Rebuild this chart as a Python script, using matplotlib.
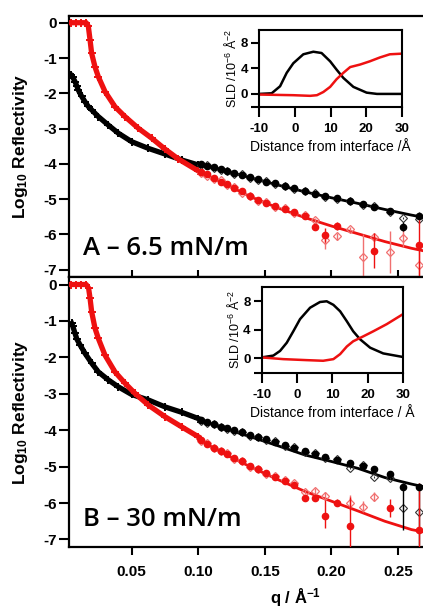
import numpy as np
import matplotlib
matplotlib.use("Agg")
import matplotlib.pyplot as plt

plt.rcParams['font.family'] = ['Liberation Sans', 'DejaVu Sans']
plt.rcParams['mathtext.default'] = 'regular'
plt.rcParams['axes.unicode_minus'] = False

RED = '#ee1111'
PINK = '#f07070'

# ---- panel A (6.5 mN/m) dense low-q data ----
qA_black = [0.0046, 0.0060, 0.0076, 0.0090, 0.0101, 0.0125, 0.0151, 0.0175, 0.0201, 0.0251,
            0.0326, 0.0401, 0.0501, 0.0626, 0.0751, 0.0877, 0.1001]
RA_black = [-1.48, -1.55, -1.67, -1.80, -1.91, -2.08, -2.24, -2.37, -2.47, -2.66,
            -2.90, -3.13, -3.37, -3.56, -3.72, -3.89, -4.03]
qA_red = [0.0046, 0.0080, 0.0120, 0.0160, 0.0176, 0.0189, 0.0201, 0.0226, 0.0251, 0.0301,
          0.0376, 0.0451, 0.0551, 0.0651, 0.0751, 0.0851, 0.1001]
RA_red = [0.0, 0.0, 0.0, 0.0, -0.10, -0.49, -0.87, -1.25, -1.53, -1.95,
          -2.38, -2.66, -2.99, -3.27, -3.58, -3.86, -4.20]

# ---- panel B (30 mN/m) dense low-q data ----
qB_black = [0.0051, 0.0060, 0.0076, 0.0090, 0.0114, 0.0151, 0.0201, 0.0251, 0.0326, 0.0401,
            0.0501, 0.0626, 0.0751, 0.0877, 0.1001]
RB_black = [-1.07, -1.15, -1.34, -1.50, -1.66, -1.89, -2.16, -2.40, -2.62, -2.81,
            -3.02, -3.17, -3.36, -3.51, -3.68]
qB_red = [0.0046, 0.0080, 0.0120, 0.0160, 0.0178, 0.0189, 0.0201, 0.0226, 0.0251, 0.0301,
          0.0376, 0.0451, 0.0526, 0.0626, 0.0751, 0.0877, 0.1001]
RB_red = [0.0, 0.0, 0.0, 0.0, -0.10, -0.38, -0.75, -1.20, -1.48, -1.94,
          -2.40, -2.71, -2.99, -3.31, -3.63, -3.91, -4.18]

# ---- high-q binned data (filled = one contrast, open diamonds = other) ----
q_hi = [0.102, 0.107, 0.112, 0.117, 0.122, 0.127, 0.133, 0.139, 0.145, 0.151, 0.158, 0.165,
        0.172, 0.180, 0.188, 0.195, 0.204, 0.214, 0.224, 0.232, 0.244, 0.254, 0.266]
nan = np.nan

A_blk_f = [-4.00, -4.06, -4.10, -4.15, -4.20, -4.25, -4.32, -4.38, -4.43, -4.50, -4.55, -4.63,
           -4.69, -4.77, -4.85, -4.90, -4.98, -5.06, -5.15, -5.22, -5.33, -5.78, -5.47]
A_blk_f_err = [0.03, 0.03, 0.03, 0.03, 0.03, 0.03, 0.03, 0.03, 0.03, 0.03, 0.03, 0.03,
               0.03, 0.03, 0.04, 0.04, 0.04, 0.05, 0.05, 0.05, 0.06, 0.12, 0.10]
A_blk_d = [-4.04, -4.04, -4.12, -4.18, -4.19, -4.28, -4.30, -4.40, -4.46, -4.48, -4.58, -4.62,
           -4.72, -4.78, -4.83, -4.93, -4.99, -5.05, -5.17, -5.20, -5.36, -5.54, -5.57]
A_red_f = [-4.22, -4.30, -4.40, -4.50, -4.58, -4.68, -4.78, -4.92, -5.01, -5.10, -5.18, -5.28,
           -5.35, -5.47, -5.78, -6.01, -5.76, nan, nan, -6.46, nan, nan, -6.30]
A_red_f_err = [0.03, 0.03, 0.03, 0.03, 0.03, 0.03, 0.04, 0.04, 0.04, 0.05, 0.05, 0.05,
               0.06, 0.06, 0.08, 0.20, 0.10, 0, 0, 0.50, 0, 0, 0.90]
A_red_d = [-4.26, -4.33, -4.42, -4.47, -4.60, -4.66, -4.82, -4.90, -5.04, -5.08, -5.22, -5.25,
           -5.40, -5.45, -5.60, -6.16, -6.05, -5.85, -6.63, -6.06, -6.49, -6.11, -6.86]
A_red_d_err = [0.03, 0.03, 0.03, 0.03, 0.03, 0.03, 0.04, 0.04, 0.04, 0.05, 0.05, 0.05,
               0.06, 0.06, 0.08, 0.26, 0.10, 0.05, 0.65, 0.05, 0.60, 0.25, 0.40]

B_blk_f = [-3.73, -3.78, -3.84, -3.90, -3.95, -4.00, -4.06, -4.12, -4.20, -4.25, -4.33, -4.40,
           -4.48, -4.58, -4.66, -4.73, -4.82, -4.90, -4.98, -5.06, -5.20, -5.55, -5.55]
B_blk_f_lo = [0.03, 0.03, 0.03, 0.03, 0.03, 0.03, 0.03, 0.03, 0.03, 0.03, 0.03, 0.03,
              0.03, 0.03, 0.04, 0.04, 0.04, 0.05, 0.05, 0.05, 0.06, 1.20, 1.60]
B_blk_f_hi = [0.03, 0.03, 0.03, 0.03, 0.03, 0.03, 0.03, 0.03, 0.03, 0.03, 0.03, 0.03,
              0.03, 0.03, 0.04, 0.04, 0.04, 0.05, 0.05, 0.05, 0.06, 0.10, 0.10]
B_blk_d = [-3.75, -3.80, -3.83, -3.92, -3.96, -4.02, -4.05, -4.15, -4.19, -4.27, -4.31, -4.43,
           -4.47, -4.60, -4.64, -4.76, -4.80, -5.05, -4.97, -5.28, -5.30, -6.15, -6.25]
B_red_f = [-4.28, -4.38, -4.48, -4.56, -4.66, -4.76, -4.86, -4.98, -5.08, -5.18, -5.28, -5.40,
           -5.50, -5.87, -5.87, -6.36, -5.99, -6.63, nan, nan, -6.13, nan, -6.74]
B_red_f_lo = [0.03, 0.03, 0.03, 0.03, 0.03, 0.03, 0.04, 0.04, 0.04, 0.05, 0.05, 0.05,
              0.06, 0.06, 0.08, 0.34, 0.10, 0.90, 0, 0, 0.25, 0, 0.60]
B_red_f_hi = [0.03, 0.03, 0.03, 0.03, 0.03, 0.03, 0.04, 0.04, 0.04, 0.05, 0.05, 0.05,
              0.06, 0.06, 0.08, 0.44, 0.10, 0.80, 0, 0, 0.25, 0, 1.30]
B_red_d = [-4.30, -4.36, -4.50, -4.58, -4.64, -4.78, -4.84, -5.00, -5.06, -5.20, -5.26, -5.38,
           -5.45, -5.69, -5.67, -5.80, nan, -5.99, -6.10, -5.83, nan, nan, nan]
B_red_d_err = [0.03, 0.03, 0.03, 0.03, 0.03, 0.03, 0.04, 0.04, 0.04, 0.05, 0.05, 0.05,
               0.06, 0.06, 0.08, 0.10, 0, 0.20, 0.15, 0.12, 0, 0, 0]

# ---- model fits ----
q_fit = [0.10, 0.12, 0.14, 0.16, 0.18, 0.20, 0.22, 0.24, 0.26, 0.27]
A_fit_black = [-3.99, -4.19, -4.40, -4.60, -4.79, -4.96, -5.12, -5.29, -5.45, -5.52]
A_fit_red = [-4.20, -4.57, -4.94, -5.25, -5.52, -5.76, -5.98, -6.20, -6.39, -6.47]
B_fit_black = [-3.70, -3.96, -4.19, -4.43, -4.68, -4.86, -5.05, -5.30, -5.48, -5.56]
B_fit_red = [-4.25, -4.66, -5.02, -5.36, -5.68, -5.95, -6.22, -6.50, -6.73, -6.80]

# ---- SLD profiles (insets) ----
zA_black = [-10, -6.45, -4.1, -2.25, -0.4, 2.4, 5.2, 7.5, 9.9, 11.7, 13.6, 16.4, 20.1, 23.0, 30]
sA_black = [0.0, 0.1, 1.2, 3.3, 4.8, 6.2, 6.6, 6.4, 5.1, 3.8, 2.5, 1.1, 0.2, 0.0, 0.0]
zA_red = [-10, -0.4, 4.3, 6.2, 8.0, 9.9, 11.7, 13.6, 15.5, 18.3, 21.0, 23.8, 26.6, 30]
sA_red = [-0.1, -0.2, -0.3, -0.2, 0.3, 1.1, 2.3, 3.3, 4.2, 4.6, 5.1, 5.7, 6.2, 6.3]
zB_black = [-10, -6.7, -4.8, -2.9, -1.05, 0.85, 3.7, 6.5, 8.4, 10.3, 12.2, 14.1, 15.9, 17.8,
            20.7, 24.4, 30]
sB_black = [0.14, 0.4, 1.05, 2.2, 3.8, 5.5, 7.1, 7.9, 8.0, 7.5, 6.6, 5.2, 3.8, 2.7, 1.5, 0.7, 0.2]
zB_red = [-10, -3.9, 2.7, 7.4, 10.3, 12.2, 14.1, 15.9, 18.8, 21.6, 25.4, 30]
sB_red = [0.14, -0.1, -0.24, -0.33, -0.1, 0.6, 1.67, 2.4, 3.1, 3.8, 4.8, 6.2]


def style_main(ax, ylim, bottom_panel):
    ax.set_xlim(0.0031, 0.2687)
    ax.set_ylim(*ylim)
    ax.set_yticks(range(-7, 1))
    ax.set_xticks([0.05, 0.10, 0.15, 0.20, 0.25])
    for s in ['left', 'bottom', 'top']:
        ax.spines[s].set_linewidth(1.6)
    ax.spines['right'].set_visible(False)
    ax.tick_params(axis='y', direction='out', length=7, width=1.5, pad=2,
                   labelsize=11)
    if bottom_panel:
        ax.tick_params(axis='x', direction='out', length=6, width=1.5, pad=7,
                       labelsize=11)
        ax.set_xticklabels(['0.05', '0.10', '0.15', '0.20', '0.25'])
    else:
        ax.tick_params(axis='x', direction='in', length=5, width=1.5,
                       labelbottom=False)
    for lab in ax.get_xticklabels() + ax.get_yticklabels():
        lab.set_fontweight('bold')


def draw_refl(ax, q_b, r_b, q_r, r_r, fit_b, fit_r, blk_f, blk_f_err, blk_d,
              red_f, red_f_err, red_d, red_d_err):
    # dense low-q data
    ax.plot(q_b, r_b, color='black', lw=3.8, marker='+', ms=5.5, mew=1.4, zorder=3)
    ax.plot(q_r, r_r, color=RED, lw=3.8, marker='+', ms=5.5, mew=1.4, zorder=4)
    # fits
    ax.plot(q_fit, fit_b, color='black', lw=2, zorder=5)
    ax.plot(q_fit, fit_r, color=RED, lw=2, zorder=5)
    # binned high-q data
    ax.errorbar(q_hi, blk_d, yerr=0.03, fmt='D', ms=4.5, mfc='none', mec='#333333',
                mew=0.8, ecolor='#333333', elinewidth=0.8, zorder=6)
    ax.errorbar(q_hi, blk_f, yerr=blk_f_err, fmt='o', ms=4.5, color='black',
                elinewidth=1.0, zorder=7)
    ax.errorbar(q_hi, red_d, yerr=red_d_err, fmt='D', ms=4.5, mfc='none', mec=PINK,
                mew=0.9, ecolor=PINK, elinewidth=1.0, zorder=6)
    ax.errorbar(q_hi, red_f, yerr=red_f_err, fmt='o', ms=4.5, color=RED,
                elinewidth=1.0, zorder=7)


def style_inset(ax, xlabel):
    ax.set_xlim(-10, 30)
    ax.set_ylim(-2, 10)
    ax.set_xticks([-10, 0, 10, 20, 30])
    ax.set_yticks([-2, 0, 4, 8])
    ax.set_yticklabels(['', '0', '4', '8'])
    for s in ax.spines.values():
        s.set_linewidth(1.5)
    ax.tick_params(axis='y', direction='out', length=6, width=1.5, pad=2, labelsize=9.5)
    ax.tick_params(axis='x', direction='out', length=7.5, width=1.5, pad=4, labelsize=9.5)
    for lab in ax.get_xticklabels() + ax.get_yticklabels():
        lab.set_fontweight('bold')
    ax.set_xlabel(xlabel, fontsize=10, labelpad=4)
    ax.set_ylabel('SLD /10$^{-6}$ Å$^{-2}$', fontsize=9, labelpad=1)
    ax.patch.set_alpha(0)


fig = plt.figure(figsize=(4.23, 6.10), dpi=100)

axA = fig.add_axes([69 / 423, 1 - 276.5 / 610, 354 / 423, 260.5 / 610])
draw_refl(axA, qA_black, RA_black, qA_red, RA_red, A_fit_black, A_fit_red,
          A_blk_f, A_blk_f_err, A_blk_d, A_red_f, A_red_f_err, A_red_d, A_red_d_err)
style_main(axA, (-7.19, 0.19), False)
axA.text(0.04, 0.107, 'A – 6.5 mN/m', transform=axA.transAxes, fontsize=18.5,
         family='Open Sans', fontweight='semibold', va='center', ha='left')

axB = fig.add_axes([69 / 423, 1 - 546.7 / 610, 354 / 423, 269.7 / 610])
axB.plot(q_fit, B_fit_black, color='black', lw=2, zorder=5)
axB.plot(q_fit, B_fit_red, color=RED, lw=2, zorder=5)
axB.plot(qB_black, RB_black, color='black', lw=3.8, marker='+', ms=5.5, mew=1.4, zorder=3)
axB.plot(qB_red, RB_red, color=RED, lw=3.8, marker='+', ms=5.5, mew=1.4, zorder=4)
axB.errorbar(q_hi, B_blk_d, yerr=0.03, fmt='D', ms=4.5, mfc='none', mec='#333333',
             mew=0.8, ecolor='#333333', elinewidth=0.8, zorder=6)
axB.errorbar(q_hi, B_blk_f, yerr=[B_blk_f_lo, B_blk_f_hi], fmt='o', ms=4.5,
             color='black', elinewidth=1.0, zorder=7)
axB.errorbar(q_hi, B_red_d, yerr=B_red_d_err, fmt='D', ms=4.5, mfc='none', mec=PINK,
             mew=0.9, ecolor=PINK, elinewidth=1.0, zorder=6)
axB.errorbar(q_hi, B_red_f, yerr=[B_red_f_lo, B_red_f_hi], fmt='o', ms=4.5, color=RED,
             elinewidth=1.0, zorder=7)
style_main(axB, (-7.2, 0.206), True)
axB.text(0.04, 0.099, 'B – 30 mN/m', transform=axB.transAxes, fontsize=18.5,
         family='Open Sans', fontweight='semibold', va='center', ha='left')

# axis titles
for yc in [146, 412]:
    fig.text(20 / 423, 1 - yc / 610, 'Log$_{10}$ Reflectivity', rotation=90,
             ha='center', va='center', fontsize=12.5, fontweight='bold')
fig.text(296 / 423, 1 - 598 / 610, 'q / Å$^{-1}$', ha='center', va='center',
         fontsize=12, fontweight='bold')

# SLD insets
insA = fig.add_axes([259 / 423, 1 - 106.7 / 610, 143 / 423, 76.7 / 610])
insA.plot(zA_black, sA_black, color='black', lw=1.8)
insA.plot(zA_red, sA_red, color=RED, lw=1.8)
style_inset(insA, 'Distance from interface /Å')

insB = fig.add_axes([261.7 / 423, 1 - 372.7 / 610, 141.3 / 423, 85.7 / 610])
insB.plot(zB_black, sB_black, color='black', lw=1.8)
insB.plot(zB_red, sB_red, color=RED, lw=1.8)
style_inset(insB, 'Distance from interface / Å')

fig.savefig('out.png', dpi=100)
